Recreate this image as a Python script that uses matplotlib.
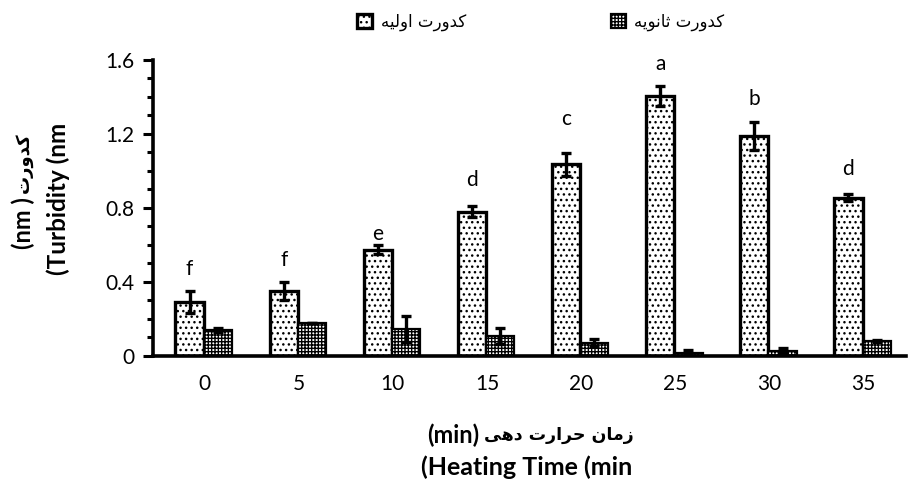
import matplotlib
matplotlib.use("Agg")
import matplotlib.pyplot as plt
import numpy as np

plt.rcParams['font.family'] = ['Lato', 'DejaVu Sans']
plt.rcParams['hatch.linewidth'] = 1.0

categories = ['0', '5', '10', '15', '20', '25', '30', '35']
primary = [0.29, 0.35, 0.575, 0.78, 1.035, 1.405, 1.19, 0.855]
primary_err = [0.06, 0.05, 0.025, 0.03, 0.06, 0.055, 0.075, 0.02]
secondary = [0.14, 0.18, 0.145, 0.108, 0.072, 0.018, 0.027, 0.08]
secondary_err = [0.012, 0.0, 0.07, 0.045, 0.018, 0.012, 0.014, 0.004]
letters = ['f', 'f', 'e', 'd', 'c', 'a', 'b', 'd']
letter_y = [0.47, 0.52, 0.66, 0.95, 1.28, 1.58, 1.39, 1.01]

legend_primary = 'کدورت اولیه'
legend_secondary = 'کدورت ثانویه'
ylabel_fa = 'کدورت'
ylabel_unit = '(nm )'
ylabel_en = '(Turbidity (nm'
xlabel_fa = 'زمان حرارت دهی'
xlabel_unit = '(min)'
xlabel_en = '(Heating Time (min'

# Arabic-script contextual forms (isolated, final, initial, medial); matplotlib
# draws glyphs left to right without shaping, so we shape and order them here.
FORMS = {
    '\u0627': ('\uFE8D', '\uFE8E', None, None),
    '\u062F': ('\uFEA9', '\uFEAA', None, None),
    '\u0631': ('\uFEAD', '\uFEAE', None, None),
    '\u0632': ('\uFEAF', '\uFEB0', None, None),
    '\u0648': ('\uFEED', '\uFEEE', None, None),
    '\u062A': ('\uFE95', '\uFE96', '\uFE97', '\uFE98'),
    '\u062B': ('\uFE99', '\uFE9A', '\uFE9B', '\uFE9C'),
    '\u062D': ('\uFEA1', '\uFEA2', '\uFEA3', '\uFEA4'),
    '\u06A9': ('\uFB8E', '\uFB8F', '\uFB90', '\uFB91'),
    '\u0644': ('\uFEDD', '\uFEDE', '\uFEDF', '\uFEE0'),
    '\u0645': ('\uFEE1', '\uFEE2', '\uFEE3', '\uFEE4'),
    '\u0646': ('\uFEE5', '\uFEE6', '\uFEE7', '\uFEE8'),
    '\u0647': ('\uFEE9', '\uFEEA', '\uFEEB', '\uFEEC'),
    '\u06CC': ('\uFBFC', '\uFBFD', '\uFBFE', '\uFBFF'),
}


def rtl(text):
    out = []
    for i, c in enumerate(text):
        if c not in FORMS:
            out.append(c)
            continue
        iso, fin, ini, med = FORMS[c]
        prev = text[i - 1] if i > 0 else None
        nxt = text[i + 1] if i + 1 < len(text) else None
        jp = prev in FORMS and FORMS[prev][2] is not None
        jn = ini is not None and nxt in FORMS
        out.append(med if (jp and jn) else fin if jp else ini if jn else iso)
    return ''.join(out)[::-1]


fig = plt.figure(figsize=(9.15, 4.79), dpi=100)
ax = fig.add_axes([0.167, 0.257, 0.823, 0.618])

x = np.arange(len(categories))
w = 0.3
b1 = ax.bar(x - w / 2 - 0.01, primary, w, color='white', edgecolor='black',
            linewidth=2.4, hatch='...', label=rtl(legend_primary), zorder=2)
b2 = ax.bar(x + w / 2 - 0.01, secondary, w, color='white', edgecolor='black',
            linewidth=1.6, hatch='+++++', label=rtl(legend_secondary), zorder=2)
ax.errorbar(x - w / 2 - 0.01, primary, yerr=primary_err, fmt='none', ecolor='black',
            elinewidth=2.4, capsize=3.8, capthick=2.4, zorder=3)
ax.errorbar(x + w / 2 - 0.01, secondary, yerr=secondary_err, fmt='none', ecolor='black',
            elinewidth=2.4, capsize=3.8, capthick=2.4, zorder=3)

for xi, lt, ly in zip(x, letters, letter_y):
    ax.text(xi - w / 2 - 0.01, ly, lt, ha='center', va='center', fontsize=15)

ax.set_xlim(-0.55, 7.45)
ax.set_ylim(0, 1.6)
ax.set_yticks([0, 0.4, 0.8, 1.2, 1.6])
ax.set_yticklabels(['0', '0.4', '0.8', '1.2', '1.6'])
ax.set_yticks(np.arange(0, 1.61, 0.1), minor=True)
ax.set_xticks(x)
ax.set_xticklabels(categories)
ax.tick_params(axis='x', length=0, labelsize=15, pad=13)
ax.tick_params(axis='y', which='major', length=7, width=2.2, labelsize=15, pad=6)
ax.tick_params(axis='y', which='minor', length=4, width=2.2)
for s in ['top', 'right']:
    ax.spines[s].set_visible(False)
ax.spines['left'].set_linewidth(2.6)
ax.spines['bottom'].set_linewidth(2.6)

# y-axis title (two lines, rotated)
fig.text(0.026, 1 - 163 / 479, rtl(ylabel_fa), rotation=90, ha='center', va='center',
         fontsize=13, fontweight='bold', family=['DejaVu Sans'])
fig.text(0.026, 1 - 197 / 479, ylabel_unit, rotation=90, ha='center', va='top',
         fontsize=17, fontweight='bold')
fig.text(0.064, 1 - 199 / 479, ylabel_en, rotation=90, ha='center', va='center',
         fontsize=17.5, fontweight='bold')

# x-axis title (two lines)
fig.text(427 / 915, 1 - 435 / 479, xlabel_unit, ha='left', va='center',
         fontsize=17, fontweight='bold')
fig.text(634 / 915, 1 - 435 / 479, rtl(xlabel_fa), ha='right', va='center',
         fontsize=12.5, fontweight='bold', family=['DejaVu Sans'])
fig.text(527 / 915, 1 - 467 / 479, xlabel_en, ha='center', va='center',
         fontsize=18, fontweight='bold')

fig.legend(handles=[b1, b2], loc='center', bbox_to_anchor=(0.591, 0.954), ncol=2,
           frameon=False, markerfirst=True, columnspacing=8.7,
           handlelength=0.9, handleheight=0.9, handletextpad=0.5,
           prop={'family': ['DejaVu Sans'], 'size': 12})

fig.savefig('out.png', dpi=100)
